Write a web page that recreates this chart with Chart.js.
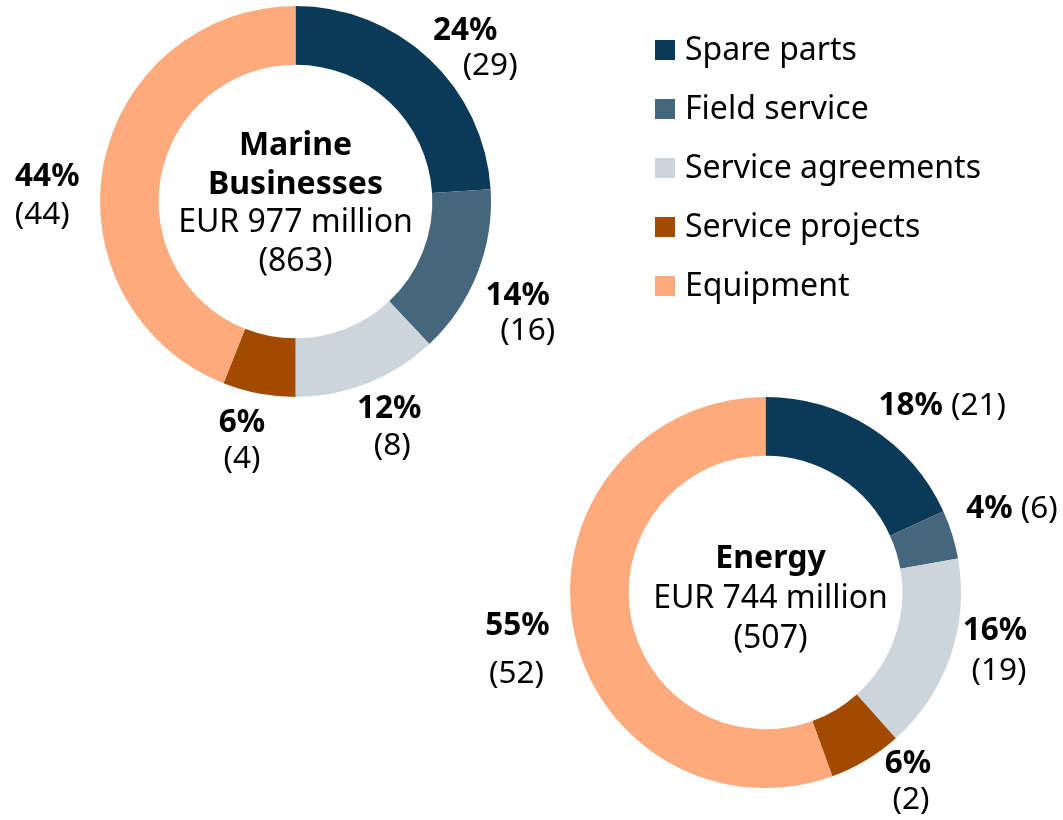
<!DOCTYPE html>
<html>
<head>
<meta charset="utf-8">
<script src="https://cdn.jsdelivr.net/npm/chart.js@4"></script>
<style>
  html, body { margin: 0; padding: 0; background: #fff; }
  body { width: 1063px; height: 820px; position: relative; overflow: hidden; }
  canvas { position: absolute; left: 0; top: 0; }
</style>
</head>
<body>
<canvas id="marine" width="1063" height="820"></canvas>
<canvas id="energy" width="1063" height="820"></canvas>
<script>
// --- Data ---
const categories = ['Spare parts', 'Field service', 'Service agreements', 'Service projects', 'Equipment']
const colors = ['#0a3a58', '#46667d', '#cdd5dc', '#a24b00', '#fdaa7d']

const marineShare = [24, 14, 12, 6, 44]
const marinePrev = [29, 16, 8, 4, 44]
const marineTitle = ['Marine', 'Businesses']
const marineTotal = ['EUR 977 million', '(863)']

const energyShare = [18, 4, 16, 6, 55]
const energyPrev = [21, 6, 19, 2, 52]
const energyTitle = ['Energy']
const energyTotal = ['EUR 744 million', '(507)']

// label placement: [angle shift (deg), radius factor, 2nd line dx, 2nd line dy] or 'inline'
const marineLabelPos = [
  [3.2, 1.198, 25, 35],
  [3.4, 1.254, 10, 35],
  [-1.8, 1.207, 3, 37],
  [2.3, 1.209, 0, 36],
  [-7.2, 1.272, -5, 38],
]
const energyLabelPos = [
  [12.2, 1.28, 'inline'],
  [0.5, 1.317, 'inline'],
  [-7.4, 1.199, 4, 40],
  [-7.4, 1.176, 3, 36],
  [0.2, 1.287, -1, 48],
]

const FONT = '"Noto Sans", "Open Sans", sans-serif'
const LABEL_SIZE = 31.5
const CENTER_SIZE = 32

// percentage + previous-year value around the ring
const sliceLabels = {
  id: 'sliceLabels',
  afterDraw: (chart, args, opts) => {
    const ctx = chart.ctx
    const meta = chart.getDatasetMeta(0)
    const ds = chart.data.datasets[0]
    ctx.save()
    ctx.fillStyle = '#000'
    ctx.textBaseline = 'alphabetic'
    meta.data.forEach((arc, i) => {
      const p = arc.getProps(['x', 'y', 'startAngle', 'endAngle', 'outerRadius'], true)
      const pos = opts.layout[i]
      const a = (p.startAngle + p.endAngle) / 2 + (pos[0] * Math.PI) / 180
      const r = p.outerRadius * pos[1]
      const lx = p.x + Math.cos(a) * r
      const ly = p.y + Math.sin(a) * r
      const pct = ds.data[i] + '%'
      const prev = '(' + opts.prev[i] + ')'
      const bold = `bold ${LABEL_SIZE}px ${FONT}`
      const normal = `${LABEL_SIZE}px ${FONT}`
      if (pos[2] === 'inline') {
        ctx.font = bold
        const w1 = ctx.measureText(pct).width
        ctx.font = normal
        const w2 = ctx.measureText(prev).width
        const gap = 8
        const x0 = lx - (w1 + gap + w2) / 2
        ctx.textAlign = 'left'
        ctx.font = bold
        ctx.fillText(pct, x0, ly)
        ctx.font = normal
        ctx.fillText(prev, x0 + w1 + gap, ly)
      } else {
        ctx.textAlign = 'center'
        ctx.font = bold
        ctx.fillText(pct, lx, ly)
        ctx.font = normal
        ctx.fillText(prev, lx + pos[2], ly + pos[3])
      }
    })
    ctx.restore()
  },
}

// segment name and totals in the hole
const centerText = {
  id: 'centerText',
  afterDraw: (chart, args, opts) => {
    const ctx = chart.ctx
    const arc = chart.getDatasetMeta(0).data[0]
    const cx = arc.x + (opts.dx || 0)
    const cy = arc.y + (opts.dy || 0)
    const lines = opts.bold.map((t) => [t, true]).concat(opts.normal.map((t) => [t, false]))
    const lh = opts.lineHeight
    ctx.save()
    ctx.fillStyle = '#000'
    ctx.textAlign = 'center'
    ctx.textBaseline = 'alphabetic'
    lines.forEach(([t, b], i) => {
      ctx.font = `${b ? 'bold ' : ''}${CENTER_SIZE}px ${FONT}`
      const y = cy + (i - (lines.length - 1) / 2) * lh + CENTER_SIZE * 0.357
      ctx.fillText(t, cx, y)
    })
    ctx.restore()
  },
}

// legend with square swatches
const squareLegend = {
  id: 'squareLegend',
  afterDraw: (chart, args, opts) => {
    if (!opts.show) return
    const ctx = chart.ctx
    ctx.save()
    ctx.textAlign = 'left'
    ctx.textBaseline = 'alphabetic'
    ctx.font = `${CENTER_SIZE}px ${FONT}`
    chart.data.labels.forEach((name, i) => {
      const y = opts.top + i * opts.step
      ctx.fillStyle = chart.data.datasets[0].backgroundColor[i]
      ctx.fillRect(opts.left, y - 10, 20, 20)
      ctx.fillStyle = '#000'
      ctx.fillText(name, opts.left + 30, y + 10)
    })
    ctx.restore()
  },
}

const makeDonut = (id, values, padding, plugins) =>
  new Chart(document.getElementById(id), {
    type: 'doughnut',
    data: {
      labels: categories,
      datasets: [
        {
          data: values,
          backgroundColor: colors,
          borderWidth: 0,
          hoverOffset: 0,
        },
      ],
    },
    plugins: [sliceLabels, centerText, squareLegend],
    options: {
      responsive: false,
      animation: false,
      events: [],
      cutout: '70%',
      layout: { padding },
      plugins: Object.assign(
        { legend: { display: false }, tooltip: { enabled: false } },
        plugins,
      ),
    },
  })

makeDonut('marine', marineShare, { left: 100, top: 6, right: 572, bottom: 423 }, {
  sliceLabels: { layout: marineLabelPos, prev: marinePrev },
  centerText: { bold: marineTitle, normal: marineTotal, lineHeight: 38.5 },
  squareLegend: { show: true, left: 655, top: 50, step: 59 },
})

makeDonut('energy', energyShare, { left: 570, top: 397, right: 102, bottom: 32 }, {
  sliceLabels: { layout: energyLabelPos, prev: energyPrev },
  centerText: { bold: energyTitle, normal: energyTotal, lineHeight: 40, dx: 5, dy: 4 },
  squareLegend: { show: false },
})
</script>
</body>
</html>
